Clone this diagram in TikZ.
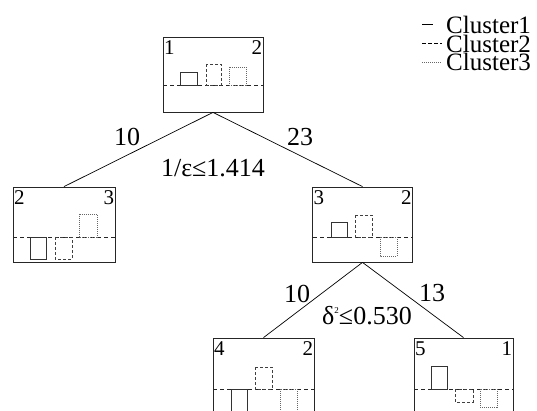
\documentclass[tikz,border=0pt]{standalone}
\usepackage{fontspec}
\setmainfont{Liberation Serif}
\begin{document}
\begin{tikzpicture}[x=1pt,y=-1pt,
  box/.style={draw=black!85,line width=0.8pt,minimum width=100pt,minimum height=75pt,inner sep=0pt},
  base/.style={draw=black!85,line width=0.7pt,dash pattern=on 4pt off 3pt},
  sq1/.style={draw=black!80,line width=0.8pt},
  sq2/.style={draw=black!75,line width=0.7pt,dash pattern=on 3pt off 2pt},
  sq3/.style={draw=black!60,line width=0.7pt,dash pattern=on 1pt off 1pt},
  edge/.style={draw=black,line width=0.7pt},
  lab/.style={font=\fontsize{26}{26}\selectfont,inner sep=0pt},
  leg/.style={font=\fontsize{25}{18.5}\selectfont,inner sep=0pt,align=left},
  num/.style={font=\fontsize{21}{21}\selectfont,inner xsep=1.2pt,inner ysep=4pt}]
\useasboundingbox (0,0) rectangle (537,411);
\clip (0,0) rectangle (537,411);
\fill[white] (0,0) rectangle (537,411);

% boxes
\node[box] (r) at (213,74.5) {};
\node[box,minimum width=102pt] (a) at (64,224.5) {};
\node[box] (b) at (362.5,224.5) {};
\node[box,minimum width=101pt] (c) at (263.5,375.5) {};
\node[box,minimum width=99pt] (d) at (463.5,375.5) {};

% edges
\draw[edge] (r.south) -- (a.north);
\draw[edge] (r.south) -- (b.north);
\draw[edge] (b.south) -- (c.north);
\draw[edge] (b.south) -- (d.north);

% corner numbers
\node[num,anchor=north west] (r1) at (r.north west) {1};
\node[num,anchor=north east] (r2) at (r.north east) {2};
\node[num,anchor=north west] (a1) at (a.north west) {2};
\node[num,anchor=north east] (a2) at (a.north east) {3};
\node[num,anchor=north west] (b1) at (b.north west) {3};
\node[num,anchor=north east] (b2) at (b.north east) {2};
\node[num,anchor=north west] (c1) at (c.north west) {4};
\node[num,anchor=north east] (c2) at (c.north east) {2};
\node[num,anchor=north west] (d1) at (d.north west) {5};
\node[num,anchor=north east] (d2) at (d.north east) {1};

% root contents
\draw[base] (163,85) -- (263,85);
\draw[sq1] (180,72) rectangle (197,85);
\draw[sq2] (206,64) rectangle (221,85);
\draw[sq3] (229,67) rectangle (246,85);

% left child
\draw[base] (13,237) -- (115,237);
\draw[sq1] (30,237) rectangle (46,259);
\draw[sq2] (55,237) rectangle (72,259);
\draw[sq3] (79,214) rectangle (97,237);

% right child
\draw[base] (313,237) -- (412,237);
\draw[sq1] (331,222) rectangle (347,237);
\draw[sq2] (355,215) rectangle (372,237);
\draw[sq3] (380,237) rectangle (397,256);

% bottom-left
\draw[base] (213,389) -- (314,389);
\draw[sq1] (231,389) rectangle (247,420);
\draw[sq2] (255,367) rectangle (272,389);
\draw[sq3] (280,389) rectangle (297,420);

% bottom-right
\draw[base] (414,389) -- (513,389);
\draw[sq1] (431,366) rectangle (447,389);
\draw[sq2] (455,389) rectangle (473,402);
\draw[sq3] (480,389) rectangle (497,407);

% edge labels
\node[lab] (l1) at (127,137) {10};
\node[lab] (l2) at (300,137) {23};
\node[lab] (l3) at (213,168) {1/ε≤1.414};
\node[lab] (l4) at (297,294) {10};
\node[lab] (l5) at (367,316) {δ\raisebox{11pt}{\fontsize{9}{9}\selectfont 2}≤0.530};
\node[lab] (l6) at (432,293) {13};

% legend
\node[leg,anchor=north west] (key) at (446,16) {Cluster1\\Cluster2\\Cluster3};
\coordinate (s1a) at (422,25); \coordinate (s1b) at (433,25);
\coordinate (s2a) at (422,43.5); \coordinate (s2b) at (442,43.5);
\coordinate (s3a) at (422,62); \coordinate (s3b) at (442,62);
\draw[line width=1pt] (s1a) -- (s1b);
\draw[line width=1pt,dash pattern=on 4pt off 2pt] (s2a) -- (s2b);
\draw[black!60,line width=0.7pt,dash pattern=on 1pt off 1pt] (s3a) -- (s3b);
\end{tikzpicture}
\end{document}
